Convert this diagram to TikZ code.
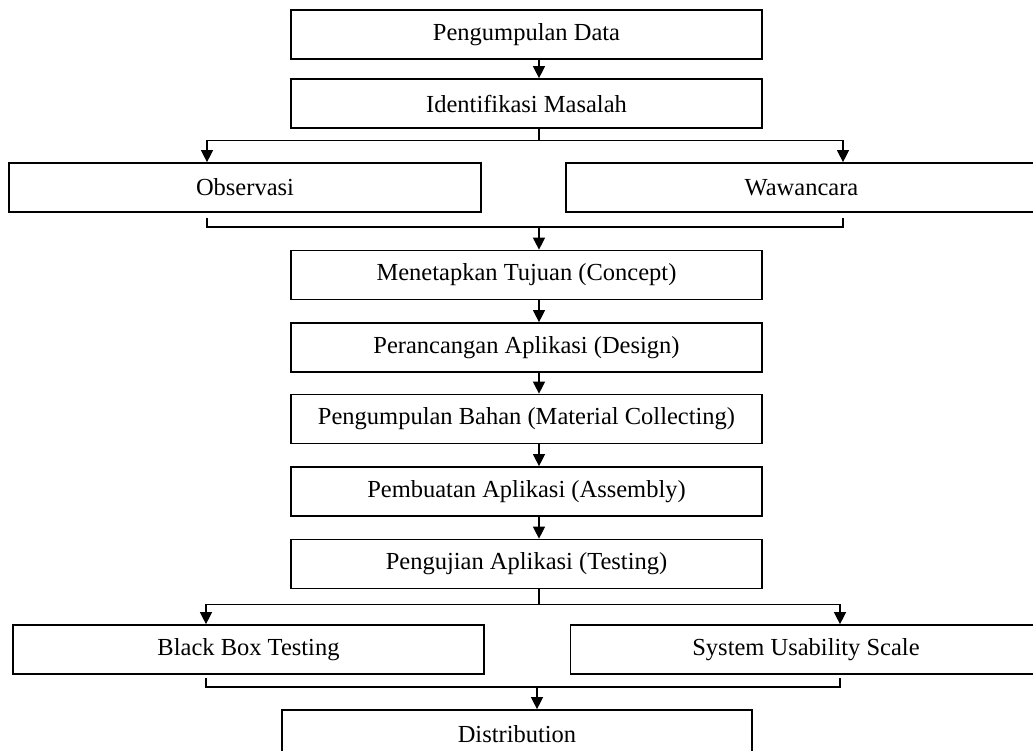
\documentclass[tikz,border=0pt]{standalone}
\usepackage{fontspec}
\setmainfont{Liberation Serif}
\usetikzlibrary{arrows.meta}
\begin{document}
\begin{tikzpicture}[x=1pt,y=-1pt,
  box/.style={draw, line width=1.7pt, minimum width=471pt, minimum height=49pt,
    inner sep=0pt, font=\fontsize{24.5}{28}\selectfont},
  conn/.style={line width=1.3pt},
  arr/.style={conn, -{Triangle[length=12pt,width=12pt]}}]
\useasboundingbox (0,0) rectangle (1033,751);
\clip (0,0) rectangle (1033,751);
\node[box] (b1) at (526.5,34.5) {Pengumpulan Data};
\node[box] (b2) at (526.5,103.5) {Identifikasi Masalah};
\node[box, minimum width=472pt] (obs) at (245,187.5) {Observasi};
\node[box] (waw) at (801.5,187.5) {Wawancara};
\node[box] (b3) at (526.5,275) {Menetapkan Tujuan (Concept)};
\node[box] (b4) at (526.5,347.5) {Perancangan Aplikasi (Design)};
\node[box] (b5) at (526.5,419) {Pengumpulan Bahan (Material Collecting)};
\node[box] (b6) at (526.5,491.5) {Pembuatan Aplikasi (Assembly)};
\node[box] (b7) at (526.5,564) {Pengujian Aplikasi (Testing)};
\node[box] (bbt) at (248.5,649.5) {Black Box Testing};
\node[box] (sus) at (806,649.5) {System Usability Scale};
\node[box, minimum width=470pt] (dist) at (517,734.5) {Distribution};

% spine
\draw[arr] ([xshift=12.5pt]b1.south) -- ([xshift=12.5pt]b2.north);
% split 1
\draw[conn] ([xshift=12.5pt]b2.south) -- ++(0,12) coordinate (j1);
\draw[arr] (j1) -| ([xshift=-38pt]obs.north);
\draw[arr] (j1) -| ([xshift=41.5pt]waw.north);
% merge 1
\coordinate (m1) at (539,227);
\draw[conn] ([xshift=-38pt,yshift=-5pt]obs.south) |- (m1) -| ([xshift=41.5pt,yshift=-5pt]waw.south);
\draw[arr] (m1) -- (b3.north -| m1);
\draw[arr] ([xshift=12.5pt]b3.south) -- ([xshift=12.5pt]b4.north);
\draw[arr] ([xshift=12.5pt]b4.south) -- ([xshift=12.5pt]b5.north);
\draw[arr] ([xshift=12.5pt]b5.south) -- ([xshift=12.5pt]b6.north);
\draw[arr] ([xshift=12.5pt]b6.south) -- ([xshift=12.5pt]b7.north);
% split 2
\draw[conn] ([xshift=12.5pt]b7.south) -- ++(0,15) coordinate (j2);
\draw[arr] (j2) -| ([xshift=-42.5pt]bbt.north);
\draw[arr] (j2) -| ([xshift=34pt]sus.north);
% merge 2
\coordinate (m2) at (537,687);
\draw[conn] ([xshift=-42.5pt,yshift=-3pt]bbt.south) |- (m2) -| ([xshift=34pt,yshift=-3pt]sus.south);
\draw[arr] (m2) -- (dist.north -| m2);
\end{tikzpicture}
\end{document}
